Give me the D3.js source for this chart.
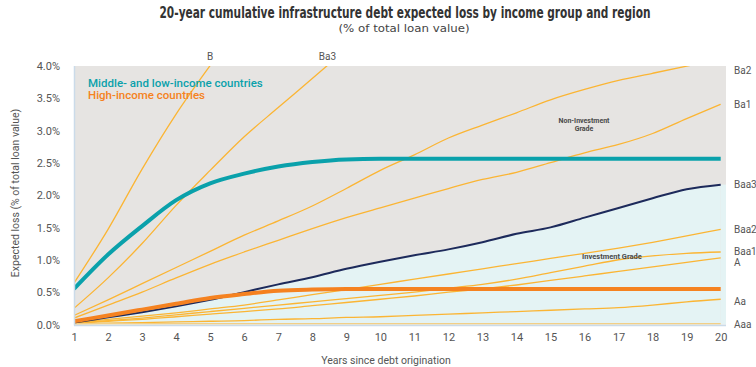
<!DOCTYPE html>
<html>
<head>
<meta charset="utf-8">
<script src="https://cdn.jsdelivr.net/npm/d3@7"></script>
<style>
  html, body { margin: 0; padding: 0; background: #ffffff; }
  svg { display: block; }
</style>
</head>
<body>
<svg id="chart" width="756" height="367"></svg>
<script>
// ---------------- DATA ----------------
const years = [1,2,3,4,5,6,7,8,9,10,11,12,13,14,15,16,17,18,19,20];
const yTicks = [0, 0.5, 1.0, 1.5, 2.0, 2.5, 3.0, 3.5, 4.0];

const midLowIncome = [0.55,1.08,1.52,1.92,2.18,2.33,2.44,2.51,2.55,2.56,2.56,2.56,2.56,2.56,2.56,2.56,2.56,2.56,2.56,2.56];
const highIncome   = [0.05,0.14,0.23,0.32,0.41,0.47,0.52,0.54,0.55,0.55,0.55,0.55,0.55,0.55,0.55,0.55,0.55,0.55,0.55,0.55];

const ratingNames = ["B","Ba3","Ba2","Ba1","Baa3","Baa2","Baa1","A","Aa","Aaa"];
const ratingB    = [0.64,1.47,2.40,3.25,4.00,4.70];
const ratingBa3  = [0.25,0.72,1.25,1.84,2.38,2.90,3.35,3.80,4.25];
const ratingBa2  = [0.14,0.38,0.63,0.88,1.13,1.38,1.60,1.83,2.10,2.38,2.62,2.88,3.08,3.27,3.47,3.63,3.77,3.88,3.99,4.10];
const ratingBa1  = [0.10,0.30,0.50,0.72,0.93,1.12,1.30,1.48,1.65,1.80,1.95,2.10,2.24,2.35,2.50,2.65,2.78,2.95,3.18,3.40];
const ratingBaa3 = [0.03,0.11,0.19,0.28,0.38,0.50,0.62,0.73,0.86,0.97,1.07,1.16,1.27,1.40,1.50,1.65,1.80,1.95,2.09,2.16];
const ratingBaa2 = [0.03,0.08,0.13,0.18,0.24,0.30,0.38,0.46,0.54,0.62,0.70,0.78,0.86,0.94,1.02,1.10,1.18,1.27,1.37,1.47];
const ratingBaa1 = [0.02,0.06,0.10,0.15,0.20,0.25,0.30,0.35,0.40,0.45,0.50,0.56,0.62,0.70,0.80,0.90,1.00,1.06,1.10,1.12];
const ratingA    = [0.02,0.05,0.08,0.12,0.16,0.20,0.24,0.29,0.34,0.39,0.44,0.50,0.55,0.61,0.68,0.75,0.82,0.89,0.96,1.03];
const ratingAa   = [0.01,0.02,0.03,0.04,0.05,0.06,0.08,0.09,0.11,0.12,0.14,0.16,0.18,0.20,0.22,0.24,0.26,0.30,0.35,0.39];
const ratingAaa  = [0.01,0.01,0.01,0.01,0.01,0.01,0.01,0.01,0.01,0.01,0.01,0.01,0.01,0.01,0.01,0.01,0.01,0.01,0.01,0.01];

const titleText = "20-year cumulative infrastructure debt expected loss by income group and region";
const subtitleText = "(% of total loan value)";
const yAxisTitle = "Expected loss (% of total loan value)";
const xAxisTitle = "Years since debt origination";
const legendLabels = ["Middle- and low-income countries", "High-income countries"];

// ---------------- LAYOUT ----------------
const svg = d3.select("#chart");
const plotLeft = 74, plotRight = 726, plotTop = 66, plotBottom = 324.5;

const x = d3.scaleLinear().domain([1, 20]).range([74, 720.7]);
const y = d3.scaleLinear().domain([0, 4]).range([324.5, 65.5]);

const C = {
  bg: "#e6e4e2",
  inv: "#e4f3f4",
  yellow: "#fbb534",
  aaa: "#f2cf86",
  teal: "#0aa1ab",
  orange: "#f58220",
  navy: "#1d2a5b",
  text: "#555555",
  axisLine: "#cbdbe9"
};

const toPts = arr => arr.map((v, i) => [years[i], v]);
const line = d3.line().x(d => x(d[0])).y(d => y(d[1])).curve(d3.curveMonotoneX);

// clip
svg.append("defs").append("clipPath").attr("id", "plotClip")
  .append("rect")
  .attr("x", plotLeft).attr("y", plotTop)
  .attr("width", plotRight - plotLeft).attr("height", plotBottom - plotTop);

// background (non-investment region)
svg.append("rect")
  .attr("x", plotLeft).attr("y", plotTop)
  .attr("width", plotRight - plotLeft).attr("height", plotBottom - plotTop)
  .attr("fill", C.bg);

// investment-grade area under Baa3, extended to plot right edge
const baa3Pts = toPts(ratingBaa3);
const area = d3.area().x(d => x(d[0])).y0(y(0)).y1(d => y(d[1])).curve(d3.curveMonotoneX);
const g = svg.append("g").attr("clip-path", "url(#plotClip)");
g.append("path").datum(baa3Pts).attr("d", area).attr("fill", C.inv);
g.append("rect")
  .attr("x", x(20)).attr("y", y(ratingBaa3[19]))
  .attr("width", plotRight - x(20)).attr("height", y(0) - y(ratingBaa3[19]))
  .attr("fill", C.inv);

// rating lines (yellow)
const yellowSeries = [ratingB, ratingBa3, ratingBa2, ratingBa1, ratingBaa2, ratingBaa1, ratingA, ratingAa];
yellowSeries.forEach(s => {
  g.append("path").datum(toPts(s)).attr("d", line)
    .attr("fill", "none").attr("stroke", C.yellow).attr("stroke-width", 1.3);
});
g.append("path").datum(toPts(ratingAaa)).attr("d", line)
  .attr("fill", "none").attr("stroke", C.aaa).attr("stroke-width", 1.8);

// Baa3 navy
g.append("path").datum(baa3Pts).attr("d", line)
  .attr("fill", "none").attr("stroke", C.navy).attr("stroke-width", 2);

// income group lines
g.append("path").datum(toPts(highIncome)).attr("d", line)
  .attr("fill", "none").attr("stroke", C.orange).attr("stroke-width", 4);
g.append("path").datum(toPts(midLowIncome)).attr("d", line)
  .attr("fill", "none").attr("stroke", C.teal).attr("stroke-width", 4);

// left border & bottom line
svg.append("line").attr("x1", plotLeft + 0.5).attr("x2", plotLeft + 0.5)
  .attr("y1", plotTop).attr("y2", plotBottom + 1)
  .attr("stroke", C.axisLine).attr("stroke-width", 1.5);
svg.append("line").attr("x1", plotLeft).attr("x2", plotRight)
  .attr("y1", plotBottom + 1).attr("y2", plotBottom + 1)
  .attr("stroke", C.axisLine).attr("stroke-width", 1.5);

// ---------------- AXES ----------------
const yAxis = d3.axisLeft(y).tickValues(yTicks).tickSize(0).tickPadding(0)
  .tickFormat(d => d3.format(".1f")(d) + "%");
const yg = svg.append("g").attr("transform", "translate(60,0)").call(yAxis);
yg.select(".domain").remove();
yg.selectAll("text").attr("font-family", "Roboto, sans-serif").attr("font-size", 11)
  .attr("fill", C.text).attr("dy", "0.35em");

const xAxis = d3.axisBottom(x).tickValues(years).tickSize(0).tickPadding(0).tickFormat(d3.format("d"));
const xg = svg.append("g").attr("transform", "translate(0,333)").call(xAxis);
xg.select(".domain").remove();
xg.selectAll("text").attr("font-family", "Roboto, sans-serif").attr("font-size", 11)
  .attr("fill", C.text).attr("dy", "0.35em").attr("y", 4);

// axis titles
svg.append("text")
  .attr("transform", "translate(15,193) rotate(-90)")
  .attr("text-anchor", "middle").attr("dy", "0.35em")
  .attr("font-family", "Roboto, sans-serif").attr("font-size", 10.5).attr("fill", C.text)
  .text(yAxisTitle);
svg.append("text")
  .attr("x", 386).attr("y", 360).attr("text-anchor", "middle").attr("dy", "0.35em")
  .attr("font-family", "Roboto, sans-serif").attr("font-size", 10.5).attr("fill", C.text)
  .text(xAxisTitle);

// title
svg.append("text")
  .attr("x", 405).attr("y", 18).attr("text-anchor", "middle")
  .attr("font-family", "'DejaVu Sans Condensed', 'Liberation Sans Narrow', sans-serif")
  .attr("font-weight", "bold").attr("font-size", 15).attr("fill", "#333333")
  .attr("textLength", 491).attr("lengthAdjust", "spacingAndGlyphs")
  .text(titleText);
svg.append("text")
  .attr("x", 404).attr("y", 32).attr("text-anchor", "middle")
  .attr("font-family", "'DejaVu Sans Condensed', sans-serif")
  .attr("font-size", 11).attr("fill", "#444444")
  .attr("textLength", 131).attr("lengthAdjust", "spacingAndGlyphs")
  .text(subtitleText);

// legend
svg.append("text").attr("x", 88).attr("y", 83).attr("dy", "0.35em")
  .attr("font-family", "Roboto, sans-serif").attr("font-weight", 500).attr("font-size", 11.5)
  .attr("fill", C.teal).text(legendLabels[0]);
svg.append("text").attr("x", 88).attr("y", 95).attr("dy", "0.35em")
  .attr("font-family", "Roboto, sans-serif").attr("font-weight", 500).attr("font-size", 11.5)
  .attr("fill", C.orange).text(legendLabels[1]);

// top labels for clipped lines (where they meet the top)
const topLabel = (name, yearAtTop) => {
  svg.append("text").attr("x", x(yearAtTop)).attr("y", 56).attr("dy", "0.35em")
    .attr("text-anchor", "middle")
    .attr("font-family", "Roboto, sans-serif").attr("font-size", 10).attr("fill", C.text)
    .text(name);
};
const crossYear = arr => {
  for (let i = 1; i < arr.length; i++) {
    if (arr[i] >= 4 && arr[i-1] < 4) return years[i-1] + (4 - arr[i-1]) / (arr[i] - arr[i-1]);
  }
  return 20;
};
topLabel("B", crossYear(ratingB));
topLabel("Ba3", crossYear(ratingBa3));

// right labels
const rightLabels = [
  ["Ba2", 3.93], ["Ba1", ratingBa1[19]], ["Baa3", ratingBaa3[19]], ["Baa2", ratingBaa2[19]],
  ["Baa1", ratingBaa1[19]], ["A", ratingA[19] - 0.07], ["Aa", ratingAa[19] - 0.04], ["Aaa", 0.0]
];
rightLabels.forEach(([name, v]) => {
  svg.append("text").attr("x", 734).attr("y", y(v)).attr("dy", "0.35em")
    .attr("font-family", "Roboto, sans-serif").attr("font-size", 10).attr("fill", C.text)
    .text(name);
});

// region annotations
const ann = svg.append("text").attr("text-anchor", "middle")
  .attr("font-family", "Roboto, sans-serif").attr("font-weight", "bold")
  .attr("font-size", 7).attr("fill", "#4a4a4a");
ann.append("tspan").attr("x", 584).attr("y", 123).text("Non-Investment");
ann.append("tspan").attr("x", 584).attr("y", 131).text("Grade");
svg.append("text").attr("x", 612).attr("y", 259).attr("text-anchor", "middle")
  .attr("font-family", "Roboto, sans-serif").attr("font-weight", "bold")
  .attr("font-size", 7.5).attr("fill", "#4a4a4a")
  .text("Investment Grade");
</script>
</body>
</html>
